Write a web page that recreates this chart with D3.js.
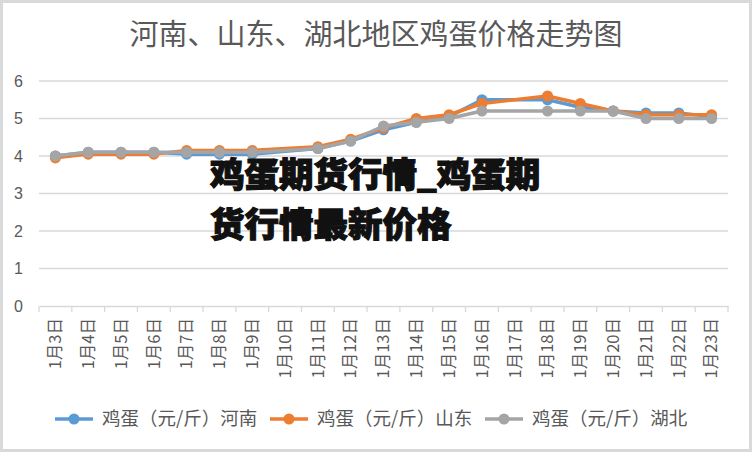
<!DOCTYPE html>
<html><head><meta charset="utf-8">
<script src="https://cdn.jsdelivr.net/npm/d3@7/dist/d3.min.js"></script>
<style>body{margin:0;background:#fff}svg{display:block}</style>
</head><body>
<svg id="c" width="752" height="452"></svg>
<script>
const categories = ["1月3日","1月4日","1月5日","1月6日","1月7日","1月8日","1月9日","1月10日","1月11日","1月12日","1月13日","1月14日","1月15日","1月16日","1月17日","1月18日","1月19日","1月20日","1月21日","1月22日","1月23日"];
const henan    = [4.0,4.1,4.1,4.1,4.05,4.05,4.05,null,4.2,4.4,4.7,4.9,5.05,5.5,null,5.5,5.3,5.2,5.15,5.15,5.05];
const shandong = [3.95,4.05,4.05,4.05,4.15,4.15,4.15,null,4.25,4.45,4.75,5.0,5.1,5.4,null,5.6,5.4,5.2,5.1,5.1,5.1];
const hubei    = [4.0,4.1,4.1,4.1,4.1,4.1,4.1,null,4.2,4.4,4.8,4.9,5.0,5.2,null,5.2,5.2,5.2,5.0,5.0,5.0];
const seriesNames = ["鸡蛋（元/斤）河南","鸡蛋（元/斤）山东","鸡蛋（元/斤）湖北"];
const colors = ["#5B9BD5","#ED7D31","#A5A5A5"];
const yTicks = [0,1,2,3,4,5,6];
const title = "河南、山东、湖北地区鸡蛋价格走势图";
const watermark = ["鸡蛋期货行情_鸡蛋期","货行情最新价格"];

const svg = d3.select("#c");
svg.append("rect").attr("x",1.5).attr("y",1.5).attr("width",749).attr("height",449)
  .attr("fill","#fff").attr("stroke","#d9d9d9").attr("stroke-width",3);

svg.append("text").attr("x",376).attr("y",45).attr("text-anchor","middle")
  .attr("font-family","'Noto Sans CJK SC'").attr("font-size",29).attr("fill","#595959")
  .text(title);

const x = d3.scaleBand().domain(categories).range([39,728]).padding(0);
const y = d3.scaleLinear().domain([0,6]).range([306,81]);

// gridlines
svg.append("g").selectAll("line").data(yTicks.filter(d=>d>0)).join("line")
  .attr("x1",39).attr("x2",728).attr("y1",d=>y(d)).attr("y2",d=>y(d))
  .attr("stroke","#d9d9d9").attr("stroke-width",1.3);

// y axis labels
const ya = svg.append("g").attr("transform","translate(27,0)")
  .call(d3.axisLeft(y).tickValues(yTicks).tickFormat(d3.format("d")).tickSize(0).tickPadding(4));
ya.select(".domain").remove();
ya.selectAll("text").attr("font-family","'Liberation Sans'").attr("font-size",16).attr("fill","#595959");

// x axis
const xa = svg.append("g").attr("transform","translate(0,306)")
  .call(d3.axisBottom(x).tickSize(0).tickPadding(0));
xa.select(".domain").attr("stroke","#d9d9d9").attr("stroke-width",1.3);
xa.selectAll("text").attr("font-family","'Noto Sans CJK SC'").attr("font-size",16.5).attr("fill","#595959")
  .attr("text-anchor","end").attr("dy","0.35em")
  .attr("transform","translate(0,12) rotate(-90)").attr("x",0).attr("y",0);
// boundary tick marks
const bounds = categories.map(c=>x(c)).concat([x.range()[1]]);
svg.append("g").selectAll("line").data(bounds).join("line")
  .attr("x1",d=>d).attr("x2",d=>d).attr("y1",306).attr("y2",312)
  .attr("stroke","#d9d9d9").attr("stroke-width",1.3);

// series
const all = [henan, shandong, hubei];
const line = d3.line().x(d=>x(d.c)+x.bandwidth()/2).y(d=>y(d.v));
all.forEach((vals,i)=>{
  const pts = categories.map((c,j)=>({c, v: vals[j]})).filter(d=>d.v!=null);
  const g = svg.append("g");
  g.append("path").attr("d",line(pts)).attr("fill","none").attr("stroke",colors[i])
    .attr("stroke-width",3.5).attr("stroke-linejoin","round");
  g.selectAll("circle").data(pts).join("circle")
    .attr("cx",d=>x(d.c)+x.bandwidth()/2).attr("cy",d=>y(d.v)).attr("r",5.5).attr("fill",colors[i]);
});

// legend
const leg = svg.append("g");
let lx = 55;
seriesNames.forEach((n,i)=>{
  const g = leg.append("g").attr("transform",`translate(${lx},419)`);
  g.append("line").attr("x1",0).attr("x2",38).attr("stroke",colors[i]).attr("stroke-width",3.5);
  g.append("circle").attr("cx",19).attr("r",5.5).attr("fill",colors[i]);
  g.append("text").attr("x",47).attr("dy","0.35em").attr("font-family","'Noto Sans CJK SC'")
    .attr("font-size",18.5).attr("fill","#595959").text(n);
  lx += 215;
});

// watermark (one text element, two lines)
const wm = svg.append("text").attr("font-family","'Noto Sans CJK SC'").attr("font-weight",900)
  .attr("font-size",34.5).attr("fill","#111").attr("stroke","#111").attr("stroke-width",1.2);
watermark.forEach((s,i)=>{
  wm.append("tspan").attr("x",210).attr("y",187+i*50).text(s);
});
</script>
</body></html>
